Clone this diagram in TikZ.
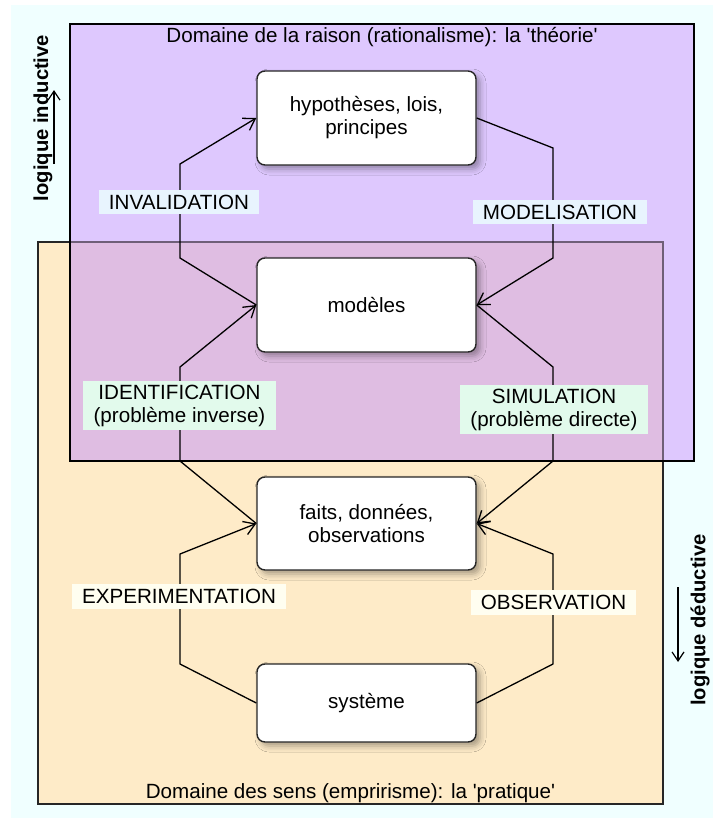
\documentclass[tikz,border=0pt]{standalone}
\usepackage{fontspec}
\setmainfont{Liberation Sans}
\usetikzlibrary{arrows.meta,shadows.blur}

\definecolor{bgazure}{HTML}{F0FFFF}
\definecolor{theory}{HTML}{DEC8FE}
\definecolor{practice}{HTML}{FEEBC8}
\definecolor{bothdomains}{HTML}{DFBDE2}
\definecolor{lblblue}{HTML}{E8F4FE}
\definecolor{lblgreen}{HTML}{E2FAEC}
\definecolor{lblivory}{HTML}{FFFEF0}
\definecolor{edgegrey}{HTML}{6F5F78}

\begin{document}
\begin{tikzpicture}[x=1pt,y=-1pt,
  every node/.style={font=\fontsize{20.6}{23}\selectfont},
  fieldedge/.style={line width=1.3pt},
  stage/.style={draw=black!85, line width=1.4pt, fill=white, rounded corners=8pt,
    minimum width=219pt, align=center, inner sep=0pt,
    blur shadow={shadow xshift=4pt, shadow yshift=-4pt, shadow blur radius=6pt, shadow opacity=35}},
  lbl/.style={inner sep=0pt, align=center, minimum height=24pt},
  flow/.style={line width=1.3pt, -{Straight Barb[length=11pt,width=14pt]}},
  vlabel/.style={font=\fontsize{20.2}{23}\selectfont\bfseries, rotate=90, inner sep=0pt},
  logicarrow/.style={line width=1.2pt, -{Straight Barb[length=9pt,width=12pt]}}
]
% page and background
\useasboundingbox (0,0) rectangle (717,819);
\fill[white] (0,0) rectangle (717,819);
\fill[bgazure] (11,5) rectangle (713,818);

% the two domains and their common part
\fill[theory] (70,24) rectangle (694,461);
\fill[practice] (38,242) rectangle (663,804);
\fill[bothdomains] (70,242) rectangle (663,461);
\draw[fieldedge, black!85] (38,242) rectangle (663,804);
\draw[fieldedge, edgegrey] (70,242) -- (663,242) -- (663,461);
\draw[fieldedge, black] (70,24) rectangle (694,461);

\node (ttheory) at (382,37) {Domaine de la raison (rationalisme): la \textquotesingle th\'eorie\textquotesingle};
\node (tpractice) at (350.5,793) {Domaine des sens (empririsme): la \textquotesingle pratique\textquotesingle};

% stages
\node[stage, minimum height=94pt] (hyp) at (366.5,118) {hypoth\`eses, lois,\\principes};
\node[stage, minimum height=94pt] (mod) at (366.5,305) {mod\`eles};
\node[stage, minimum height=93pt] (faits) at (366.5,523.5) {faits, donn\'ees,\\observations};
\node[stage, minimum height=78pt] (sys) at (366.5,703) {syst\`eme};

% connectors
\draw[flow] (mod.west) -- (180,258) -- (180,164) -- (hyp.west);
\draw[flow] (hyp.east) -- (553,148) -- (553,258) -- (mod.east);
\draw[flow] (faits.west) -- (180,461) -- (180,367) -- (mod.west);
\draw[flow] (mod.east) -- (553,367) -- (553,461) -- (faits.east);
\draw[flow] (sys.west) -- (180,664) -- (180,554) -- (faits.west);
\draw[flow] (sys.east) -- (553,664) -- (553,554) -- (faits.east);

% connector labels
\node[lbl, fill=lblblue, minimum width=160pt] (linv) at (179,202) {INVALIDATION};
\node[lbl, fill=lblblue, minimum width=174pt] (lmod) at (560,212) {MODELISATION};
\node[lbl, fill=lblgreen, minimum width=193pt, minimum height=49pt] (lide) at (179.5,405.5) {IDENTIFICATION\\(probl\`eme inverse)};
\node[lbl, fill=lblgreen, minimum width=188pt, minimum height=49pt] (lsim) at (554,409.5) {SIMULATION\\(probl\`eme directe)};
\node[lbl, fill=lblivory, minimum width=214pt, minimum height=25pt] (lexp) at (179,596.5) {EXPERIMENTATION};
\node[lbl, fill=lblivory, minimum width=165pt, minimum height=25pt] (lobs) at (553.5,602.5) {OBSERVATION};

% directions of reasoning
\node[vlabel] (lind) at (43,118) {logique inductive};
\coordinate (indfrom) at (54,164);
\coordinate (indto) at (54,90);
\draw[logicarrow] (indfrom) -- (indto);

\node[vlabel] (lded) at (700,620) {logique d\'eductive};
\coordinate (dedfrom) at (678,587);
\coordinate (dedto) at (678,662);
\draw[logicarrow] (dedfrom) -- (dedto);
\end{tikzpicture}
\end{document}
